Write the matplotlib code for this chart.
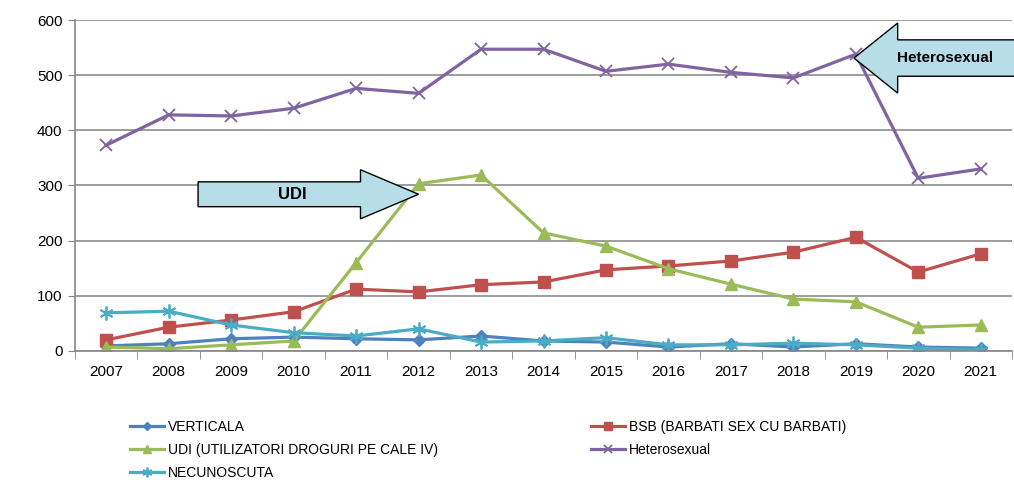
import matplotlib
matplotlib.use("Agg")
import matplotlib.pyplot as plt
from matplotlib.patches import FancyArrow
import numpy as np

plt.rcParams['font.family'] = ['Liberation Sans', 'DejaVu Sans']

years = ['2007', '2008', '2009', '2010', '2011', '2012', '2013', '2014',
         '2015', '2016', '2017', '2018', '2019', '2020', '2021']
verticala = [9, 13, 22, 25, 22, 20, 27, 18, 16, 7, 13, 7, 13, 7, 5]
bsb = [20, 43, 56, 71, 112, 107, 120, 125, 147, 154, 163, 179, 206, 143, 176]
udi = [7, 4, 11, 18, 160, 303, 319, 214, 190, 149, 121, 94, 89, 43, 47]
hetero = [373, 428, 426, 440, 476, 467, 547, 547, 507, 520, 505, 495, 538, 313, 330]
necunoscuta = [69, 72, 47, 33, 27, 40, 16, 18, 24, 11, 11, 14, 11, 5, 2]

fig = plt.figure(figsize=(10.14, 4.82), dpi=100)
ax = fig.add_axes([0.074, 0.272, 0.924, 0.6865])
x = np.arange(len(years))

lw = 2.3
h_v, = ax.plot(x, verticala, color='#4F81BD', lw=lw, marker='D', ms=6.5, label='VERTICALA')
h_b, = ax.plot(x, bsb, color='#C0504D', lw=lw, marker='s', ms=8.5, label='BSB (BARBATI SEX CU BARBATI)')
h_u, = ax.plot(x, udi, color='#9BBB59', lw=lw, marker='^', ms=9, label='UDI (UTILIZATORI DROGURI PE CALE IV)')
h_h, = ax.plot(x, hetero, color='#8064A2', lw=lw, marker='x', ms=9, mew=1.3, label='Heterosexual')
h_n, = ax.plot(x, necunoscuta, color='#4BACC6', lw=lw, marker=(6, 2, 0), ms=10, mew=1.3, label='NECUNOSCUTA')

ax.set_xlim(-0.5, 14.5)
ax.set_ylim(0, 600)
ax.set_yticks(range(0, 601, 100))
ax.set_xticks(x)
ax.set_xticklabels(years)
ax.set_xticks(np.arange(-0.5, 15, 1), minor=True)
ax.tick_params(axis='x', which='major', length=0, pad=10, labelsize=11)
ax.tick_params(axis='x', which='minor', length=6, color='#868686', direction='out')
ax.tick_params(axis='y', length=5, color='#868686', labelsize=11, pad=4)
ax.yaxis.grid(True, color='#8c8c8c', lw=1.2)
ax.set_axisbelow(True)
for s in ['top', 'right']:
    ax.spines[s].set_visible(False)
ax.spines['left'].set_color('#868686')
ax.spines['bottom'].set_color('#868686')
ax.spines['left'].set_linewidth(1.2)
ax.spines['bottom'].set_linewidth(1.2)

# arrows
arrow_kw = dict(facecolor='#B7DEE8', edgecolor='black', lw=1, length_includes_head=True,
                clip_on=False, zorder=5)
ax.add_patch(FancyArrow(1.47, 284, 3.53, 0, width=45, head_width=89, head_length=0.93, **arrow_kw))
ax.text(2.98, 284, 'UDI', ha='center', va='center', fontsize=12, fontweight='bold', zorder=6)
ax.add_patch(FancyArrow(14.55, 531, -2.58, 0, width=66, head_width=127, head_length=0.7, **arrow_kw))
ax.text(13.43, 531, 'Heterosexual', ha='center', va='center', fontsize=11, fontweight='bold', zorder=6)

fig.legend(handles=[h_v, h_u, h_n, h_b, h_h], ncol=2, loc='upper left',
           bbox_to_anchor=(0.128, 0.128), bbox_transform=fig.transFigure,
           frameon=False, fontsize=10, columnspacing=11, handlelength=2.45,
           handletextpad=0.3, labelspacing=0.62, borderaxespad=0, borderpad=0,
           markerscale=0.7)

fig.savefig('out.png', dpi=100)
